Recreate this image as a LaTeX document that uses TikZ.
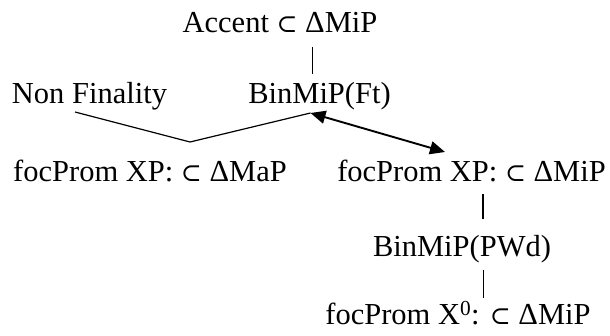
\documentclass[tikz,border=0pt]{standalone}
\usepackage{fontspec}
\setmainfont{Liberation Serif}
\newfontfamily\symfont{DejaVu Serif}
\usetikzlibrary{arrows.meta}
\newcommand{\sbset}{{\fontsize{25}{30}\symfont ⊂}}
\begin{document}
\begin{tikzpicture}[x=1pt,y=-1pt,
  lbl/.style={inner sep=0pt,anchor=base,font=\fontsize{30.5}{36}\selectfont},
  thinlink/.style={line width=1pt},
  vlink/.style={line width=1.2pt},
  boldlink/.style={line width=2.4pt},
  duallink/.style={line width=1.9pt,{Triangle[length=15pt,width=13pt]}-{Triangle[length=15pt,width=13pt]}}]
  \useasboundingbox (0,0) rectangle (610,336);

  % labels
  \node[lbl] (acc)  at (280,33)   {Accent \sbset{} ΔMiP};
  \node[lbl] (nf)   at (89.5,104) {Non Finality};
  \node[lbl] (ft)   at (319.5,104) {BinMiP(Ft)};
  \node[lbl] (map)  at (150,182)  {focProm XP: \sbset{} ΔMaP};
  \node[lbl] (mip)  at (471.5,182) {focProm XP: \sbset{} ΔMiP};
  \node[lbl] (pwd)  at (462,257)  {BinMiP(PWd)};
  \node[lbl] (xz)   at (458,325)  {focProm X\textsuperscript{0}: \sbset{} ΔMiP};

  % attachment points
  \coordinate (accfoot) at (312,47);
  \coordinate (fthead)  at (312,74);
  \coordinate (nffoot)  at (75,112);
  \coordinate (apex)    at (190,142);
  \coordinate (ftfoot)  at (310.5,113);
  \coordinate (miphead) at (445,152);
  \coordinate (mipfoot) at (483,194);
  \coordinate (pwdhead) at (483,219);
  \coordinate (pwdfoot) at (483,270);
  \coordinate (xzhead)  at (483,298);

  % connectors
  \draw[thinlink] (accfoot) -- (fthead);
  \draw[vlink] (nffoot) -- (apex) -- (ftfoot);
  \draw[duallink] (ftfoot) -- (miphead);
  \draw[boldlink] (mipfoot) -- (pwdhead);
  \draw[thinlink] (pwdfoot) -- (xzhead);
\end{tikzpicture}
\end{document}
